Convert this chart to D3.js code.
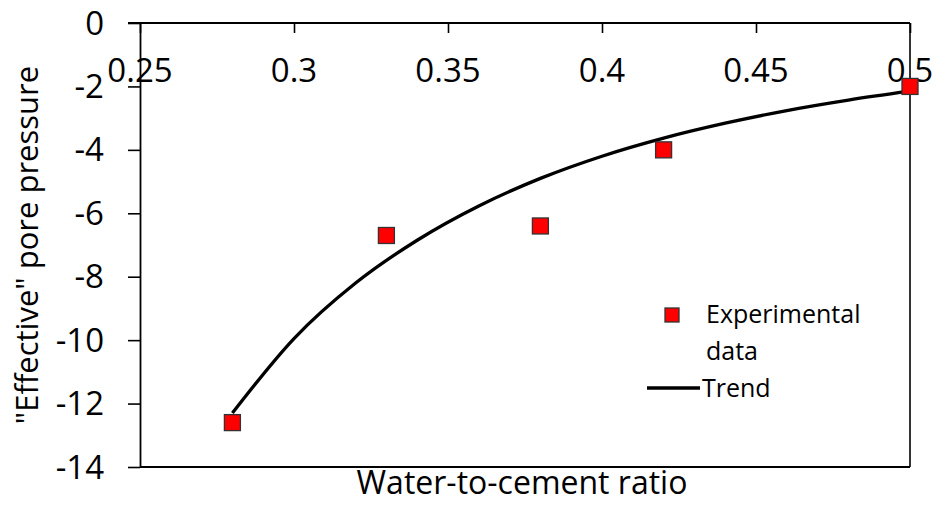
<!DOCTYPE html>
<html>
<head>
<meta charset="utf-8">
<script src="https://cdn.jsdelivr.net/npm/d3@7"></script>
<style>
  html, body { margin: 0; padding: 0; background: #fff; }
  svg { display: block; }
  text { font-family: "Open Sans", sans-serif; fill: #000; }
</style>
</head>
<body>
<svg id="chart" width="933" height="511"></svg>
<script>
// ---- data ----
const xTicks = [0.25, 0.3, 0.35, 0.4, 0.45, 0.5];
const yTicks = [0, -2, -4, -6, -8, -10, -12, -14];
const expX = [0.28, 0.33, 0.38, 0.42, 0.5];
const expY = [-12.6, -6.7, -6.4, -4.0, -2.0];
const trendX = [0.28, 0.30, 0.32, 0.34, 0.36, 0.38, 0.40, 0.42, 0.44, 0.46, 0.48, 0.50];
const trendY = [-12.3, -9.95, -8.2, -6.85, -5.77, -4.9, -4.2, -3.63, -3.16, -2.76, -2.43, -2.15];
const xTitle = "Water-to-cement ratio";
const yTitle = "\"Effective\" pore pressure";
const legendLabels = ["Experimental", "data", "Trend"];

// ---- layout ----
const svg = d3.select("#chart");
const L = 140, R = 910, T = 23, B = 467;
const x = d3.scaleLinear().domain([0.25, 0.5]).range([L, R]);
const y = d3.scaleLinear().domain([-14, 0]).range([B, T]);

// tick labels first (axis lines drawn over them)
svg.append("g").selectAll("text").data(xTicks).join("text")
  .attr("x", d => x(d)).attr("y", 82)
  .attr("text-anchor", "middle")
  .style("font-size", "33px")
  .text(d => String(d));

svg.append("g").selectAll("text").data(yTicks).join("text")
  .attr("x", 104).attr("y", d => y(d) + 11.5)
  .attr("text-anchor", "end")
  .style("font-size", "33px")
  .text(d => String(d));

// frame (right & bottom)
svg.append("line").attr("x1", R).attr("x2", R).attr("y1", T).attr("y2", B)
  .attr("stroke", "#000").attr("stroke-width", 1.6);
svg.append("line").attr("x1", L).attr("x2", R).attr("y1", B).attr("y2", B)
  .attr("stroke", "#000").attr("stroke-width", 1.8);

// x axis at y=0 (top), ticks pointing down into plot
const xAxis = d3.axisBottom(x).tickValues(xTicks).tickSize(10).tickSizeOuter(0).tickFormat("");
const gx = svg.append("g").attr("transform", `translate(0,${y(0)})`).call(xAxis);
gx.select(".domain").attr("stroke", "#000").attr("stroke-width", 1.8)
  .attr("d", `M${L - 12},0H${R}`);
gx.selectAll(".tick line").attr("stroke", "#000").attr("stroke-width", 1.6);

// y axis at left, ticks outward
const yAxis = d3.axisLeft(y).tickValues(yTicks).tickSize(12).tickSizeOuter(0).tickFormat("");
const gy = svg.append("g").attr("transform", `translate(${L},0)`).call(yAxis);
gy.select(".domain").attr("stroke", "#000").attr("stroke-width", 1.8);
gy.selectAll(".tick line").attr("stroke", "#000").attr("stroke-width", 1.6);

// trend line
const trend = trendX.map((d, i) => [d, trendY[i]]);
svg.append("path").datum(trend)
  .attr("fill", "none").attr("stroke", "#000").attr("stroke-width", 3.3)
  .attr("d", d3.line().x(d => x(d[0])).y(d => y(d[1])).curve(d3.curveMonotoneX));

// experimental points
const S = 16;
svg.append("g").selectAll("rect").data(expX.map((d, i) => [d, expY[i]])).join("rect")
  .attr("x", d => x(d[0]) - S / 2).attr("y", d => y(d[1]) - S / 2)
  .attr("width", S).attr("height", S)
  .attr("fill", "#ff0000").attr("stroke", "#333").attr("stroke-width", 1.3);

// titles
svg.append("text").attr("x", (L + R) / 2 - 3).attr("y", 494)
  .attr("text-anchor", "middle").style("font-size", "32px").text(xTitle);
svg.append("text").attr("transform", `translate(38,${(T + B) / 2}) rotate(-90)`)
  .attr("text-anchor", "middle").style("font-size", "31px").text(yTitle);

// legend
const lg = svg.append("g");
lg.append("rect").attr("x", 665).attr("y", 308).attr("width", 14).attr("height", 14)
  .attr("fill", "#ff0000").attr("stroke", "#333").attr("stroke-width", 1.3);
lg.append("text").attr("x", 706).attr("y", 323).style("font-size", "25px").text(legendLabels[0]);
lg.append("text").attr("x", 706).attr("y", 360).style("font-size", "25px").text(legendLabels[1]);
lg.append("line").attr("x1", 647).attr("x2", 700).attr("y1", 388).attr("y2", 388)
  .attr("stroke", "#000").attr("stroke-width", 3.3);
lg.append("text").attr("x", 702).attr("y", 397).style("font-size", "25px").text(legendLabels[2]);
</script>
</body>
</html>
